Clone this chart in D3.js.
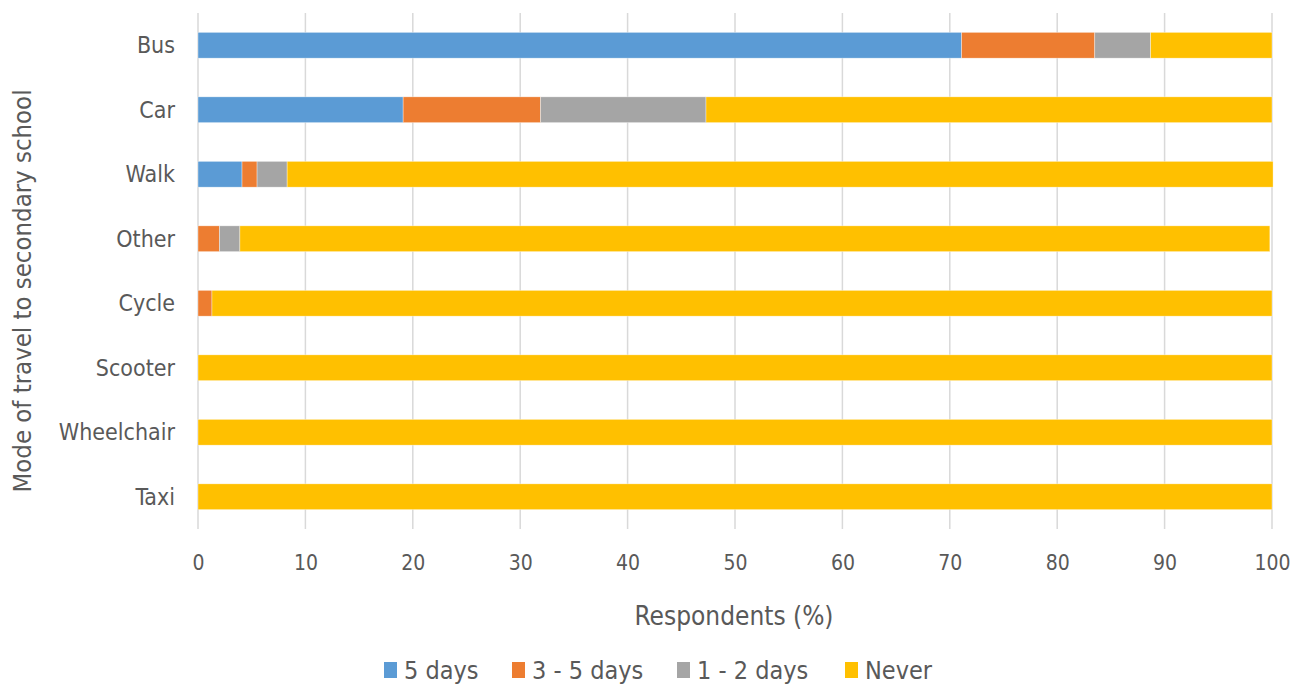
<!DOCTYPE html>
<html>
<head>
<meta charset="utf-8">
<script src="https://cdn.jsdelivr.net/npm/d3@7"></script>
<style>
  html, body { margin: 0; padding: 0; background: #fff; }
  svg text { font-family: "DejaVu Sans Condensed", "DejaVu Sans", sans-serif; fill: #595959; }
</style>
</head>
<body>
<svg id="chart" width="1304" height="684"></svg>
<script>
// Modes of travel, top to bottom
const modes = ["Bus", "Car", "Walk", "Other", "Cycle", "Scooter", "Wheelchair", "Taxi"];
// Frequency groups (stack order, left to right)
const groups = ["5 days", "3 - 5 days", "1 - 2 days", "Never"];
// Share of respondents (%) per mode, one array per frequency group
const fiveDays  = [71.1, 19.1, 4.1, 0.0, 0.0, 0, 0, 0];
const threeFive = [12.4, 12.8, 1.4, 2.0, 1.3, 0, 0, 0];
const oneTwo    = [5.2, 15.4, 2.8, 1.9, 0.0, 0, 0, 0];
const never     = [11.3, 52.7, 91.8, 95.9, 98.7, 100, 100, 100];
const xTicks = [0, 10, 20, 30, 40, 50, 60, 70, 80, 90, 100];

const colors = ["#5B9BD5", "#ED7D31", "#A5A5A5", "#FFC000"];

const rows = modes.map((m, i) => ({
  mode: m,
  "5 days": fiveDays[i],
  "3 - 5 days": threeFive[i],
  "1 - 2 days": oneTwo[i],
  "Never": never[i]
}));

const svg = d3.select("#chart");
const plotLeft = 198, plotRight = 1272, plotTop = 13, plotBottom = 529;

const x = d3.scaleLinear().domain([0, 100]).range([plotLeft, plotRight]);
const y = d3.scaleBand().domain(modes).range([plotTop, plotBottom]).paddingInner(0.6).paddingOuter(0.3);
const color = d3.scaleOrdinal().domain(groups).range(colors);

// Vertical gridlines
svg.append("g")
  .selectAll("line")
  .data(xTicks)
  .join("line")
  .attr("x1", d => x(d)).attr("x2", d => x(d))
  .attr("y1", plotTop).attr("y2", plotBottom)
  .attr("stroke", "#d9d9d9")
  .attr("stroke-width", 1.5);

// Stacked bars
const stacked = d3.stack().keys(groups)(rows);
svg.append("g")
  .selectAll("g")
  .data(stacked)
  .join("g")
  .attr("fill", d => color(d.key))
  .selectAll("rect")
  .data(d => d)
  .join("rect")
  .attr("x", d => x(d[0]))
  .attr("y", d => y(d.data.mode))
  .attr("width", d => Math.max(0, x(d[1]) - x(d[0])))
  .attr("height", y.bandwidth())
  .attr("stroke", "#ffffff")
  .attr("stroke-opacity", 0.6)
  .attr("stroke-width", 0.6);

// X axis labels
const xAxis = d3.axisBottom(x).tickValues(xTicks).tickSize(0).tickPadding(0);
const gx = svg.append("g").attr("transform", `translate(0,${plotBottom})`).call(xAxis);
gx.select(".domain").remove();
gx.selectAll("text")
  .attr("dy", 0)
  .attr("y", 41)
  .style("font-size", "21px")
  .style("font-family", null);

// Y axis labels
const yAxis = d3.axisLeft(y).tickSize(0).tickPadding(0);
const gy = svg.append("g").attr("transform", `translate(175,0)`).call(yAxis);
gy.select(".domain").remove();
gy.selectAll("text")
  .attr("dy", "0.35em")
  .style("font-size", "23px")
  .style("font-family", null);

// Axis titles
svg.append("text")
  .attr("x", 734)
  .attr("y", 625)
  .attr("text-anchor", "middle")
  .style("font-size", "26px")
  .text("Respondents (%)");

svg.append("text")
  .attr("transform", `translate(31,291) rotate(-90)`)
  .attr("text-anchor", "middle")
  .style("font-size", "25.5px")
  .text("Mode of travel to secondary school");

// Legend
const legendX = [384, 512, 677, 845];
const legend = svg.append("g");
groups.forEach((g, i) => {
  legend.append("rect")
    .attr("x", legendX[i]).attr("y", 662)
    .attr("width", 13).attr("height", 16)
    .attr("fill", color(g));
  legend.append("text")
    .attr("x", legendX[i] + 20).attr("y", 679)
    .style("font-size", "25px")
    .text(g);
});
</script>
</body>
</html>
